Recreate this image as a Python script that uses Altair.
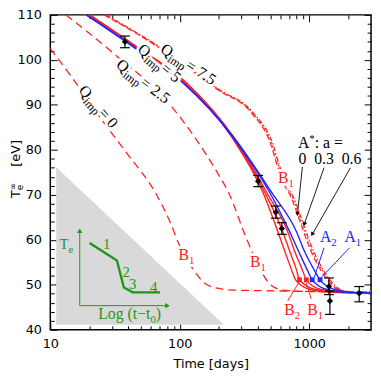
import altair as alt
import pandas as pd

# ---------------- colours / fonts / size
RED = "#ff2020"
BLUE = "#2424ff"
GREEN = "#1e961e"
GRAY = "#d9d9d9"
SERIF = "Liberation Serif"
SANS = "DejaVu Sans"
W, H = 326, 320

# ---------------- axis tick values
x_major = [10, 100, 1000]
x_minor = [20, 30, 40, 50, 60, 70, 80, 90, 200, 300, 400, 500, 600, 700, 800, 900, 2000]
y_major = [40, 50, 60, 70, 80, 90, 100, 110]
y_minor = [42, 44, 46, 48, 52, 54, 56, 58, 62, 64, 66, 68, 72, 74, 76, 78,
           82, 84, 86, 88, 92, 94, 96, 98, 102, 104, 106, 108]

# ---------------- Q_imp = 0 and 2.5 (dashed)
q0_t = [10, 14.7, 23.5, 39.6, 65, 84, 100, 127.6, 160, 215, 270, 400, 1000, 3000]
q0_T = [102.5, 96.1, 87.7, 79.0, 70.4, 64.0, 58.6, 53.3, 50.1, 49.0, 48.8, 48.7, 48.5, 48.4]
q25_t = [13.2, 29.5, 90, 197, 239, 322, 433, 481, 560, 700, 1000, 3000]
q25_T = [110.0, 101.9, 89.0, 74.7, 70.4, 60.8, 52.6, 50.6, 49.2, 48.7, 48.5, 48.4]

# ---------------- Q_imp = 7.5 family (A*, a = 0, 0.3, 0.6)
q75_T = [110, 103.1, 93.3, 88.2, 81.1, 76.8, 72.5, 69.8, 64.0, 57.5, 53.3, 50.5, 49.0, 48.3, 48.2]
q75_a0_t = [26.0, 66, 198, 358, 506, 562, 634, 716, 850, 1030, 1225, 1435, 1650, 2150, 3000]
q75_a3_t = [26.5, 67, 201, 364, 516, 573, 647, 731, 869, 1054, 1254, 1469, 1687, 2193, 3000]
q75_a6_t = [27.0, 68, 204, 370, 526, 584, 660, 746, 888, 1078, 1283, 1503, 1725, 2240, 3000]

# ---------------- Q_imp = 5 models (solid)
m_T = [110, 102.9, 95.0, 82.8, 70.4, 61.8, 57.5, 53.3, 51.1, 49.0, 48.3, 48.2]
m_R1_t = [19.75, 45.6, 109.1, 252, 440.5, 572.3, 646.5, 730.5, 783.4, 1000, 1493.8, 3000]
m_B2_t = [20.1, 46.4, 111.0, 256.6, 456.1, 624.3, 705.6, 797.2, 840, 1091.2, 1629.8, 3000]
m_B1_t = [20.1, 46.4, 111.0, 261.0, 472.4, 681.3, 769.8, 885.1, 949, 1211.5, 1778.3, 3000]
m_A2_t = [19.06, 44.05, 105.4, 256.6, 497.7, 705.6, 825.4, 965.6, 1054, 1345.4, 1907, 3000]
m_A1_t = [18.9, 43.7, 104.4, 261.0, 515.4, 797.2, 916.5, 1091.2, 1211, 1546.9, 2118.2, 3000]
m_names = ["R1", "B2", "B1", "A2", "A1"]
m_colors = [RED, RED, RED, BLUE, BLUE]

# model markers
mk_t = [840, 949, 1054, 1211]
mk_T = [51.1, 51.1, 51.1, 51.1]
mk_col = [RED, RED, BLUE, BLUE]

# ---------------- observations
obs_t = [37.7, 403, 552, 614, 1419, 1444, 2432]
obs_T = [104.0, 73.0, 66.1, 62.5, 49.6, 46.4, 48.1]
obs_lo = [102.7, 71.8, 64.8, 61.2, 47.8, 43.4, 46.2]
obs_hi = [105.3, 74.3, 67.5, 63.8, 51.5, 48.6, 49.6]

# ---------------- inset (schematic)
tri_t = [11.1, 219]
tri_top = [76.1, 41.1]
tri_bot = [41.1, 41.1]
sch_t = [20.1, 32.7, 37.0, 43.3, 70.5]
sch_T = [59.3, 55.4, 49.4, 48.3, 48.3]
sax_id = ["v", "v", "h", "h"]
sax_t = [16.88, 16.88, 16.88, 79.7]
sax_T = [45.35, 61.8, 45.35, 45.35]
shead_t = [16.88, 80.5]
shead_T = [62.0, 45.35]
shead_shape = ["triangle-up", "triangle-right"]
sdig = ["1", "2", "3", "4"]
sdig_t = [27.3, 38.6, 43.3, 63.0]
sdig_T = [59.05, 52.8, 50.05, 49.4]

# ---------------- labels
q_val = ["0", "2.5", "5", "7.5"]
q_t = [18.67, 37.3, 54.3, 82.5]
q_T = [91.2, 97.0, 100.4, 100.5]
q_angle = [49, 37, 40, 33]

b_main = ["B", "B", "B", "B", "B", "A", "A"]
b_sub = ["1", "1", "1", "2", "1", "2", "1"]
b_t = [690, 420.3, 118, 773.7, 1161, 1479, 2291]
b_T = [72.7, 53.95, 55.4, 43.25, 43.25, 59.45, 59.45]
b_col = [RED, RED, RED, RED, RED, BLUE, BLUE]

# leader lines from labels to markers
ld_id = ["B2", "B2", "B1", "B1", "A2", "A2", "A1", "A1"]
ld_t = [681, 840, 1035, 949, 1300, 1091, 2046, 1233]
ld_T = [46.4, 50.7, 46.85, 50.5, 58.2, 51.55, 58.2, 51.55]
ld_col = [RED, RED, RED, RED, BLUE, BLUE, BLUE, BLUE]

astar_t, astar_T = 1000, 80.5
av_text = ["0", "0.3", "0.6"]
av_t = [885, 1300, 2118]
av_T = [78.0, 78.0, 78.0]
ar_id = ["a0", "a0", "a3", "a3", "a6", "a6"]
ar_t = [885, 811, 1300, 916, 2080, 1054]
ar_T = [76.2, 65.7, 76.0, 63.5, 76.0, 61.2]
arh_t = [811, 916, 1054]
arh_T = [65.7, 63.5, 61.2]
arh_angle = [186, 199, 209]

ytitle_t, ytitle_T = 5.85, 71.0

# ---------------- scales / axes
x_scale = alt.Scale(type="log", domain=[10, 3000], nice=False)
y_scale = alt.Scale(domain=[40, 110], nice=False, zero=False)


def X(axis=None, field="t"):
    return alt.X(f"{field}:Q", scale=x_scale, axis=axis)


def Y(axis=None, field="T"):
    return alt.Y(f"{field}:Q", scale=y_scale, axis=axis)


def tick_axis(orient, offset, values, size):
    return alt.Axis(orient=orient, offset=offset, values=values, labels=False,
                    domain=False, grid=False, ticks=True, tickSize=size,
                    tickColor="black", tickWidth=1, title=None)


ax_x_lab = alt.Axis(orient="bottom", values=x_major, format="d", ticks=False, tickSize=0,
                    domain=False, grid=False, labelFont=SANS, labelFontSize=13,
                    labelColor="black", labelPadding=8, labelFlush=False,
                    labelOverlap=False, title="Time [days]", titleFont=SANS,
                    titleFontSize=13, titleFontWeight="normal", titleColor="black",
                    titlePadding=7)
ax_y_lab = alt.Axis(orient="left", values=y_major, ticks=False, tickSize=0, domain=False,
                    grid=False, labelFont=SANS, labelFontSize=13, labelColor="black",
                    labelPadding=9, labelFlush=False, labelOverlap=False, title=None)
ax_xb_maj = tick_axis("top", -H, x_major, 7)
ax_xb_min = tick_axis("top", -H, x_minor, 4)
ax_xt_maj = tick_axis("bottom", -H, x_major, 7)
ax_xt_min = tick_axis("bottom", -H, x_minor, 4)
ax_yl_maj = tick_axis("right", -W, y_major, 7)
ax_yl_min = tick_axis("right", -W, y_minor, 4)
ax_yr_maj = tick_axis("left", -W, y_major, 7)
ax_yr_min = tick_axis("left", -W, y_minor, 4)

layers = []

# inset background triangle
df_tri = pd.DataFrame({"t": tri_t, "top": tri_top, "bot": tri_bot})
layers.append(alt.Chart(df_tri).mark_area(color=GRAY, opacity=1).encode(
    x=X(ax_x_lab), y=Y(ax_y_lab, "top"), y2=alt.Y2("bot:Q")))

# inset schematic
df_sch = pd.DataFrame({"t": sch_t, "T": sch_T})
layers.append(alt.Chart(df_sch).mark_line(color=GREEN, strokeWidth=2.4).encode(
    x=X(ax_xb_maj), y=Y(ax_yl_maj)))
df_sax = pd.DataFrame({"id": sax_id, "t": sax_t, "T": sax_T})
layers.append(alt.Chart(df_sax).mark_line(color=GREEN, strokeWidth=1).encode(
    x=X(), y=Y(), detail="id:N"))
df_sh = pd.DataFrame({"t": shead_t, "T": shead_T, "shape": shead_shape})
layers.append(alt.Chart(df_sh).mark_point(filled=True, color=GREEN, size=30, opacity=1).encode(
    x=X(), y=Y(), shape=alt.Shape("shape:N", scale=None)))

# dashed curves
layers.append(alt.Chart(pd.DataFrame({"t": q0_t, "T": q0_T})).mark_line(
    color=RED, strokeWidth=1.3, strokeDash=[8, 5], interpolate="monotone").encode(
    x=X(ax_xb_min), y=Y(ax_yl_min)))
layers.append(alt.Chart(pd.DataFrame({"t": q25_t, "T": q25_T})).mark_line(
    color=RED, strokeWidth=1.3, strokeDash=[8, 5], interpolate="monotone").encode(
    x=X(ax_xt_maj), y=Y(ax_yr_maj)))

# Q_imp = 7.5 family
for tt, dash, axx, axy in [(q75_a0_t, [6, 3], ax_xt_min, ax_yr_min),
                           (q75_a3_t, [1.5, 2.5], None, None),
                           (q75_a6_t, [5, 2, 1.5, 2], None, None)]:
    layers.append(alt.Chart(pd.DataFrame({"t": tt, "T": q75_T})).mark_line(
        color=RED, strokeWidth=1.2, strokeDash=dash, interpolate="monotone").encode(
        x=X(axx), y=Y(axy)))

# Q_imp = 5 models
rows = []
for name, col, tt in zip(m_names, m_colors, [m_R1_t, m_B2_t, m_B1_t, m_A2_t, m_A1_t]):
    for a, b in zip(tt, m_T):
        rows.append({"model": name, "color": col, "t": a, "T": b})
df_m = pd.DataFrame(rows)
layers.append(alt.Chart(df_m).mark_line(strokeWidth=1.4, interpolate="monotone").encode(
    x=X(), y=Y(), detail="model:N", color=alt.Color("color:N", scale=None)))

# markers
df_mk = pd.DataFrame({"t": mk_t, "T": mk_T, "color": mk_col})
layers.append(alt.Chart(df_mk).mark_square(size=24, opacity=1).encode(
    x=X(), y=Y(), color=alt.Color("color:N", scale=None)))

# leader lines
df_ld = pd.DataFrame({"id": ld_id, "t": ld_t, "T": ld_T, "color": ld_col})
layers.append(alt.Chart(df_ld).mark_line(strokeWidth=1).encode(
    x=X(), y=Y(), detail="id:N", color=alt.Color("color:N", scale=None)))

# arrows for A*
df_ar = pd.DataFrame({"id": ar_id, "t": ar_t, "T": ar_T})
layers.append(alt.Chart(df_ar).mark_line(color="black", strokeWidth=0.9).encode(
    x=X(), y=Y(), detail="id:N"))
df_arh = pd.DataFrame({"t": arh_t, "T": arh_T, "angle": arh_angle})
layers.append(alt.Chart(df_arh).mark_point(shape="triangle-up", filled=True, color="black",
                                           size=22, opacity=1).encode(
    x=X(), y=Y(), angle=alt.Angle("angle:Q", scale=None)))

# observations with error bars
df_obs = pd.DataFrame({"t": obs_t, "T": obs_T, "lo": obs_lo, "hi": obs_hi})
layers.append(alt.Chart(df_obs).mark_rule(color="black", strokeWidth=1.2).encode(
    x=X(), y=Y(None, "lo"), y2=alt.Y2("hi:Q")))
df_caps = pd.DataFrame({"t": obs_t + obs_t, "v": obs_lo + obs_hi})
layers.append(alt.Chart(df_caps).mark_tick(orient="horizontal", size=10, thickness=1.2,
                                           color="black", opacity=1).encode(
    x=X(), y=Y(None, "v")))
layers.append(alt.Chart(df_obs).mark_point(shape="diamond", filled=True, color="black",
                                           size=42, opacity=1).encode(x=X(), y=Y()))

# ---------------- text pieces
pieces = []


def piece(text, t, T, size, color, angle, align, dx, dy, font, halo, baseline="alphabetic"):
    pieces.append(dict(text=text, t=t, T=T, size=size, color=color, angle=angle,
                       align=align, dx=dx, dy=dy, font=font, halo=halo, baseline=baseline))


for v, t, T, a in zip(q_val, q_t, q_T, q_angle):
    piece("Q", t, T, 16, "black", a, "right", 0, 0, SERIF, True)
    piece("imp", t, T, 12, "black", a, "left", 0, 4, SERIF, True)
    piece(" = " + v, t, T, 16, "black", a, "left", 19, 0, SERIF, True)

for mn, sb, t, T, c in zip(b_main, b_sub, b_t, b_T, b_col):
    piece(mn, t, T, 16, c, 0, "right", 0, 0, SERIF, True)
    piece(sb, t, T, 11, c, 0, "left", 0, 4, SERIF, True)

piece("A", astar_t, astar_T, 16, "black", 0, "right", 0, 0, SERIF, False)
piece("*", astar_t, astar_T, 11, "black", 0, "left", 0, -6, SERIF, False)
piece(" : a =", astar_t, astar_T, 16, "black", 0, "left", 5.5, 0, SERIF, False)
for s, t, T in zip(av_text, av_t, av_T):
    piece(s, t, T, 16, "black", 0, "center", 0, 0, SERIF, False, "middle")

# inset texts
piece("T", 13.8, 58.0, 15, GREEN, 0, "right", 0, 0, SERIF, False)
piece("e", 13.8, 58.0, 11, GREEN, 0, "left", 0, 4, SERIF, False)
piece("Log (t\u2212t", 59.3, 42.4, 16, GREEN, 0, "right", 0, 0, SERIF, False)
piece("0", 59.3, 42.4, 11, GREEN, 0, "left", 0, 4, SERIF, False)
piece(")", 59.3, 42.4, 16, GREEN, 0, "left", 5.5, 0, SERIF, False)
for s, t, T in zip(sdig, sdig_t, sdig_T):
    piece(s, t, T, 15, GREEN, 0, "center", 0, 0, SERIF, False, "middle")

# y-axis title
piece("T", ytitle_t, ytitle_T, 13, "black", 270, "right", 0, 0, SANS, False)
piece("e", ytitle_t, ytitle_T, 9, "black", 270, "left", 0, 3, SANS, False)
piece("\u221e", ytitle_t, ytitle_T, 9, "black", 270, "left", 0, -4, SANS, False)
piece("[eV]", ytitle_t, ytitle_T, 13, "black", 270, "left", 24, 0, SANS, False)

df_p = pd.DataFrame(pieces)
groups = list(df_p.groupby(["align", "dx", "dy", "font", "baseline"], sort=False))

for halo_pass in (True, False):
    for (align, dx, dy, font, baseline), g in groups:
        g = g[g["halo"]] if halo_pass else g
        if len(g) == 0:
            continue
        g = g[["text", "t", "T", "size", "color", "angle"]].reset_index(drop=True)
        props = dict(align=align, baseline=baseline, dx=float(dx), dy=float(dy), font=font)
        if halo_pass:
            mk = alt.Chart(g).mark_text(color="white", stroke="white", strokeWidth=6,
                                        strokeJoin="round", **props)
            layers.append(mk.encode(x=X(), y=Y(), text="text:N",
                                    size=alt.Size("size:Q", scale=None),
                                    angle=alt.Angle("angle:Q", scale=None)))
        else:
            mk = alt.Chart(g).mark_text(**props)
            layers.append(mk.encode(x=X(), y=Y(), text="text:N",
                                    size=alt.Size("size:Q", scale=None),
                                    angle=alt.Angle("angle:Q", scale=None),
                                    color=alt.Color("color:N", scale=None)))

chart = alt.layer(*layers).resolve_axis(x="independent", y="independent").properties(
    width=W, height=H,
    padding={"left": 43, "top": 4, "right": 2, "bottom": 41},
    autosize=alt.AutoSizeParams(type="none"),
).configure_view(stroke="black", strokeWidth=1.5)

chart.save("out.html", embed_options={"renderer": "svg", "actions": False})
